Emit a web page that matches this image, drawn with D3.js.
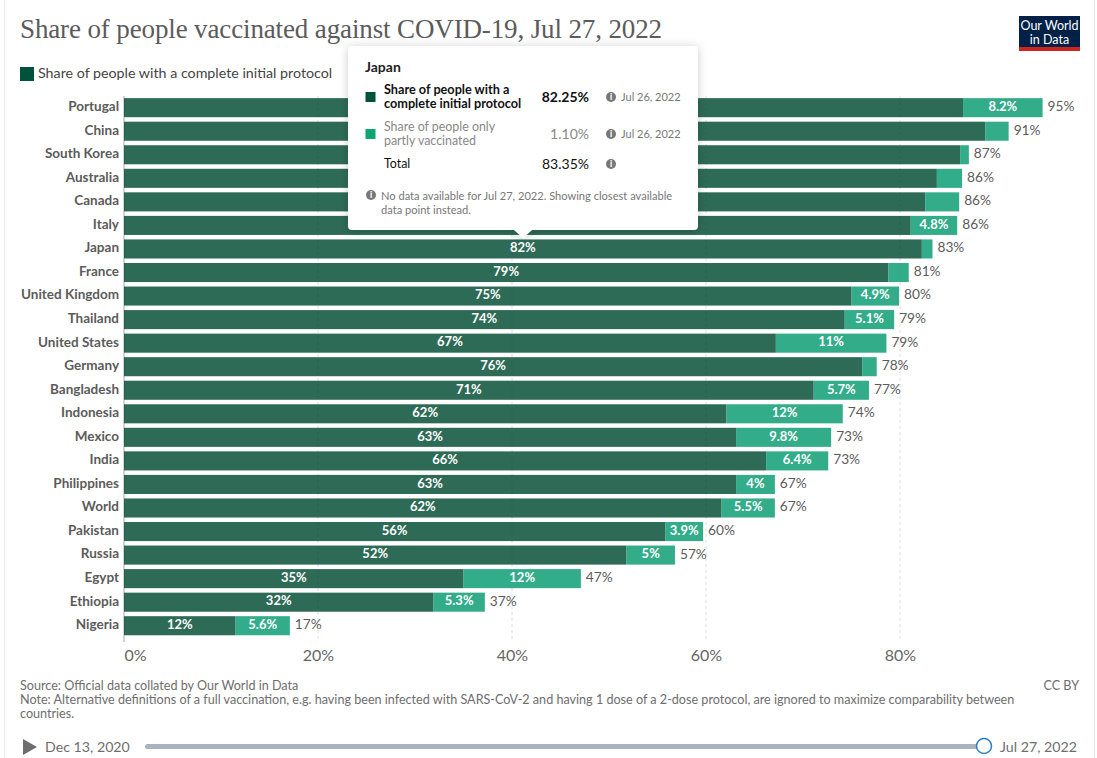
<!DOCTYPE html>
<html>
<head>
<meta charset="utf-8">
<script src="https://d3js.org/d3.v7.min.js"></script>
<style>
  html, body { margin: 0; padding: 0; background: #fff; overflow: hidden; }
  text { font-family: Lato, sans-serif; }
</style>
</head>
<body>
<div id="chart"></div>
<script>
// values
const countries = ['Portugal', 'China', 'South Korea', 'Australia', 'Canada', 'Italy', 'Japan', 'France',
  'United Kingdom', 'Thailand', 'United States', 'Germany', 'Bangladesh', 'Indonesia', 'Mexico', 'India',
  'Philippines', 'World', 'Pakistan', 'Russia', 'Egypt', 'Ethiopia', 'Nigeria'];
const complete = [86.5, 88.8, 86.2, 83.8, 82.6, 81.1, 82.25, 78.8, 75, 74.3, 67.2, 76.1, 71.1, 62.1, 63.1, 66.2,
  63.1, 61.6, 55.8, 51.8, 35, 31.9, 11.5];
const partly = [8.2, 2.4, 0.9, 2.6, 3.5, 4.8, 1.1, 2.1, 4.9, 5.1, 11.4, 1.5, 5.7, 12, 9.8, 6.4,
  4, 5.5, 3.9, 5, 12.1, 5.3, 5.6];
const xTicks = [0, 20, 40, 60, 80];

const titleText = 'Share of people vaccinated against COVID-19, Jul 27, 2022';
const legendText = 'Share of people with a complete initial protocol';
const sourceLines = [
  'Source: Official data collated by Our World in Data',
  'Note: Alternative definitions of a full vaccination, e.g. having been infected with SARS-CoV-2 and having 1 dose of a 2-dose protocol, are ignored to maximize comparability between',
  'countries.'
];

const width = 1097, height = 758;
const darkGreen = '#004a31', lightGreen = '#0e9e74';
const tipLeft = 348, tipTop = 46, tipBottom = 230; // tooltip box, it covers the top bars

const svg = d3.select('#chart').append('svg')
  .attr('width', width)
  .attr('height', height)
  .style('display', 'block');

// shadow for the tooltip
const filter = svg.append('defs').append('filter')
  .attr('id', 'tipShadow')
  .attr('x', '-10%').attr('y', '-10%').attr('width', '120%').attr('height', '125%');
filter.append('feDropShadow')
  .attr('dx', 0).attr('dy', 1).attr('stdDeviation', 5)
  .attr('flood-color', '#000').attr('flood-opacity', 0.2);

// card outline
svg.append('rect')
  .attr('x', 4.5).attr('y', -2).attr('width', 1090).attr('height', 770)
  .attr('fill', '#fff').attr('stroke', '#e8e8e8');

// Scales
const x = d3.scaleLinear().domain([0, 100]).range([124, 1094]);
const y = d3.scaleBand().domain(countries).range([95.9, 637.5]).paddingInner(0.19).paddingOuter(0.095);

// Title and logo
svg.append('text')
  .attr('x', 20).attr('y', 38)
  .attr('textLength', 642)
  .attr('lengthAdjust', 'spacing')
  .style('font-family', '"Liberation Serif", serif')
  .style('font-size', '27px')
  .attr('fill', '#5b5b5b')
  .text(titleText);

svg.append('rect').attr('x', 1019).attr('y', 16).attr('width', 61).attr('height', 35).attr('fill', '#002147');
svg.append('rect').attr('x', 1019).attr('y', 47).attr('width', 61).attr('height', 4).attr('fill', '#ce261e');
['Our World', 'in Data'].forEach((t, i) => {
  svg.append('text')
    .attr('x', 1049.5).attr('y', 30 + i * 13.5)
    .attr('text-anchor', 'middle')
    .style('font-size', '12.5px')
    .attr('fill', '#fff')
    .text(t);
});

// Legend
svg.append('rect').attr('x', 20).attr('y', 67).attr('width', 14).attr('height', 14).attr('fill', '#00533b');
svg.append('text')
  .attr('x', 38).attr('y', 78)
  .style('font-size', '14.25px')
  .attr('fill', '#444')
  .text(legendText);

// Axis
const axis = d3.axisBottom(x)
  .tickValues(xTicks)
  .tickFormat(d => d + '%')
  .tickSize(0)
  .tickPadding(0);

const axisG = svg.append('g')
  .attr('transform', 'translate(0,661)')
  .call(axis);
axisG.select('.domain').remove();
axisG.selectAll('text')
  .attr('y', 0)
  .attr('dy', 0)
  .style('font-size', '16px')
  .style('font-family', 'Lato, sans-serif')
  .attr('fill', '#666')
  .attr('text-anchor', d => d === 0 ? 'start' : 'middle');

// Grid
svg.append('g').selectAll('line')
  .data(xTicks)
  .enter()
  .append('line')
  .attr('x1', d => x(d)).attr('x2', d => x(d))
  .attr('y1', 96).attr('y2', 642)
  .attr('stroke', d => d === 0 ? '#a8a8a8' : '#dedede')
  .attr('stroke-dasharray', d => d === 0 ? null : '3,3');

// Bars
const rows = svg.append('g').selectAll('g')
  .data(countries)
  .enter()
  .append('g')
  .attr('transform', d => `translate(0,${y(d)})`);

rows.append('rect')
  .attr('x', x(0))
  .attr('height', y.bandwidth())
  .attr('width', (d, i) => x(complete[i]) - x(0))
  .attr('fill', darkGreen)
  .attr('opacity', 0.82);

rows.append('rect')
  .attr('x', (d, i) => x(complete[i]))
  .attr('height', y.bandwidth())
  .attr('width', (d, i) => x(partly[i]) - x(0))
  .attr('fill', lightGreen)
  .attr('opacity', 0.85);

rows.append('text')
  .attr('x', 119)
  .attr('y', y.bandwidth() / 2)
  .attr('dy', '0.25em')
  .attr('text-anchor', 'end')
  .style('font-size', '13.5px')
  .style('font-weight', 700)
  .attr('fill', '#5b5b5b')
  .text(d => d);

// the labels of the top bars sit behind the tooltip, so they are left out
rows.filter((d, i) => !(x(complete[i] / 2) > tipLeft && y(d) < tipBottom))
  .append('text')
  .attr('x', d => x(complete[countries.indexOf(d)] / 2))
  .attr('y', y.bandwidth() / 2)
  .attr('dy', '0.25em')
  .attr('text-anchor', 'middle')
  .style('font-size', '13px')
  .style('font-weight', 700)
  .attr('fill', '#fff')
  .text(d => Math.round(complete[countries.indexOf(d)]) + '%');

const partlyLabel = v => v < 10 ? String(+v.toFixed(1)) + '%' : Math.round(v) + '%';

rows.filter((d, i) => partly[i] >= 3.9)
  .append('text')
  .attr('x', d => {
    const i = countries.indexOf(d);
    return x(complete[i] + partly[i] / 2);
  })
  .attr('y', y.bandwidth() / 2)
  .attr('dy', '0.25em')
  .attr('text-anchor', 'middle')
  .style('font-size', '13px')
  .style('font-weight', 700)
  .attr('fill', '#fff')
  .text(d => partlyLabel(partly[countries.indexOf(d)]));

rows.append('text')
  .attr('x', (d, i) => x(complete[i] + partly[i]) + 5)
  .attr('y', y.bandwidth() / 2)
  .attr('dy', '0.25em')
  .style('font-size', '13.7px')
  .attr('fill', '#5b5b5b')
  .text((d, i) => Math.round(complete[i] + partly[i]) + '%');

// Footer
svg.append('g').selectAll('text')
  .data(sourceLines)
  .enter()
  .append('text')
  .attr('x', 20)
  .attr('y', (d, i) => 690 + i * 14)
  .style('font-size', '12.6px')
  .attr('fill', '#6e6e6e')
  .text(d => d);

svg.append('text')
  .attr('x', 1079).attr('y', 690)
  .attr('text-anchor', 'end')
  .style('font-size', '12.6px')
  .attr('fill', '#6e6e6e')
  .text('CC BY');

// Timeline
svg.append('path').attr('d', 'M23,739 L37,747 L23,755 Z').attr('fill', '#6e6e6e');
svg.append('text').attr('x', 45).attr('y', 752).style('font-size', '14.2px').attr('fill', '#6e6e6e').text('Dec 13, 2020');
svg.append('rect').attr('x', 145).attr('y', 744).attr('width', 838).attr('height', 5).attr('rx', 2.5).attr('fill', '#a9b2c2');
svg.append('circle').attr('cx', 984).attr('cy', 746).attr('r', 7.5).attr('fill', '#fff').attr('stroke', '#2c7fc0').attr('stroke-width', 1.5);
svg.append('text').attr('x', 1000).attr('y', 752).style('font-size', '14.2px').attr('fill', '#6e6e6e').text('Jul 27, 2022');

// Tooltip for Japan
const tip = svg.append('g').attr('transform', `translate(${tipLeft},${tipTop})`);
tip.append('path')
  .attr('d', 'M4,0 H346 a4,4 0 0 1 4,4 V180 a4,4 0 0 1 -4,4 H184 L175,192 L166,184 H4 a4,4 0 0 1 -4,-4 V4 a4,4 0 0 1 4,-4 Z')
  .attr('fill', '#fff')
  .attr('filter', 'url(#tipShadow)');

const tipText = (px, py, str, size, color, weight, anchor) => tip.append('text')
  .attr('x', px).attr('y', py)
  .attr('text-anchor', anchor || 'start')
  .style('font-size', size + 'px')
  .style('font-weight', weight || 400)
  .attr('fill', color)
  .text(str);

const infoIcon = (cx, cy) => {
  tip.append('circle').attr('cx', cx).attr('cy', cy).attr('r', 5).attr('fill', '#777');
  tip.append('text').attr('x', cx).attr('y', cy + 3.2).attr('text-anchor', 'middle')
    .style('font-size', '8.5px').style('font-weight', 900).attr('fill', '#fff').text('i');
};

tipText(17, 26, 'Japan', 14, '#222', 700);

tip.append('rect').attr('x', 17.5).attr('y', 46).attr('width', 10).attr('height', 10).attr('fill', '#00533b');
tipText(36, 48, 'Share of people with a', 12.7, '#111', 700);
tipText(36, 62, 'complete initial protocol', 12.7, '#111', 700);
tipText(241, 56, '82.25%', 14, '#111', 700, 'end');
infoIcon(263, 51);
tipText(273, 55, 'Jul 26, 2022', 11, '#777');

tip.append('rect').attr('x', 17.5).attr('y', 83).attr('width', 10).attr('height', 10).attr('fill', '#0fa573');
tipText(36, 85, 'Share of people only', 12.4, '#888');
tipText(36, 99, 'partly vaccinated', 12.4, '#888');
tipText(241, 93, '1.10%', 14, '#888', 400, 'end');
infoIcon(263, 88);
tipText(273, 92, 'Jul 26, 2022', 11, '#777');

tipText(36, 122, 'Total', 12.4, '#111');
tipText(241, 123, '83.35%', 14, '#111', 400, 'end');
infoIcon(263, 118);

infoIcon(23, 149);
tipText(33, 154, 'No data available for Jul 27, 2022. Showing closest available', 11.1, '#777');
tipText(33, 168, 'data point instead.', 11.1, '#777');
</script>
</body>
</html>
